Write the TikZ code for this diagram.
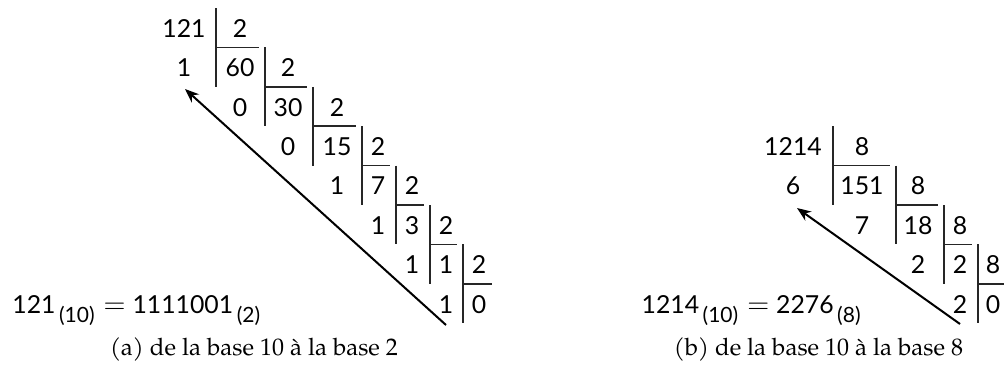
\documentclass[tikz,border=0pt]{standalone}
\usepackage{fontspec}
\setmainfont{TeX Gyre Pagella}
\newfontfamily\numf{Lato}
\usetikzlibrary{arrows.meta}
\newcommand{\bsub}[1]{\raisebox{-4.5pt}{\fontsize{10.5}{12}\selectfont\,#1}}
\newcommand{\beq}{\hspace{4.5pt}{\fontsize{14}{14}\selectfont$=$}\hspace{3.5pt}}
\begin{document}
\begin{tikzpicture}[x=0.5pt,y=-0.5pt,
  num/.style={anchor=base,inner sep=0pt,font=\numf\fontsize{12.4}{14}\selectfont},
  eqn/.style={inner sep=0pt,font=\numf\fontsize{12.4}{14}\selectfont},
  rulel/.style={line width=0.8pt,black!85},
  arr/.style={line width=1pt,-{Stealth[length=7pt,width=5.5pt]}},
  captxt/.style={anchor=base,inner sep=0pt,font=\fontsize{12}{14}\selectfont}]
\useasboundingbox (0,0) rectangle (1004,371);
% ---------- (a) ----------
\node[num] (a11) at (184,37.2) {121};
\node[num] (a12) at (240,37.2) {2};
\node[num] (a21) at (184,76.6) {1};
\node[num] (a22) at (240,76.6) {60};
\node[num] (a23) at (288,76.6) {2};
\node[num] (a32) at (240,116) {0};
\node[num] (a33) at (288,116) {30};
\node[num] (a34) at (337,116) {2};
\node[num] (a43) at (288,155.4) {0};
\node[num] (a44) at (337,155.4) {15};
\node[num] (a45) at (378,155.4) {2};
\node[num] (a54) at (337,194.8) {1};
\node[num] (a55) at (378,194.8) {7};
\node[num] (a56) at (412,194.8) {2};
\node[num] (a65) at (378,234.2) {1};
\node[num] (a66) at (412,234.2) {3};
\node[num] (a67) at (446,234.2) {2};
\node[num] (a76) at (412,273.6) {1};
\node[num] (a77) at (446,273.6) {1};
\node[num] (a78) at (479,273.6) {2};
\node[num] (a87) at (446,313) {1};
\node[num] (a88) at (479,313) {0};
% bars
\draw[rulel] (216,8) -- (216,86.8);
\draw[rulel] (265,47.4) -- (265,126.2);
\draw[rulel] (313,86.8) -- (313,165.6);
\draw[rulel] (362,126.2) -- (362,205);
\draw[rulel] (396,165.6) -- (396,244.4);
\draw[rulel] (430,205) -- (430,283.8);
\draw[rulel] (463,244.4) -- (463,323.2);
% underlines
\draw[rulel] (216,47.4) -- (259,47.4);
\draw[rulel] (265,86.8) -- (307,86.8);
\draw[rulel] (313,126.2) -- (356,126.2);
\draw[rulel] (362,165.6) -- (390,165.6);
\draw[rulel] (396,205) -- (424,205);
\draw[rulel] (430,244.4) -- (457,244.4);
\draw[rulel] (463,283.8) -- (492,283.8);
% arrow
\coordinate (aS) at (446,325);
\coordinate (aE) at (185,89);
\draw[arr] (aS) -- (aE);
\node[eqn,anchor=base west] (aeq) at (12,313) {121\bsub{(10)}\beq 1111001\bsub{(2)}};
\node[captxt] (acap) at (254,355) {(a) de la base 10 à la base 2};
% ---------- (b) ----------
\node[num] (b11) at (793,155.4) {1214};
\node[num] (b12) at (862,155.4) {8};
\node[num] (b21) at (793,194.8) {6};
\node[num] (b22) at (862,194.8) {151};
\node[num] (b23) at (918,194.8) {8};
\node[num] (b32) at (862,234.2) {7};
\node[num] (b33) at (918,234.2) {18};
\node[num] (b34) at (960,234.2) {8};
\node[num] (b43) at (918,273.6) {2};
\node[num] (b44) at (960,273.6) {2};
\node[num] (b45) at (993,273.6) {8};
\node[num] (b54) at (960,313) {2};
\node[num] (b55) at (993,313) {0};
\draw[rulel] (833,126.2) -- (833,205);
\draw[rulel] (896,165.6) -- (896,244.4);
\draw[rulel] (944,205) -- (944,283.8);
\draw[rulel] (978,244.4) -- (978,323.2);
\draw[rulel] (833,165.6) -- (890,165.6);
\draw[rulel] (896,205) -- (938,205);
\draw[rulel] (944,244.4) -- (972,244.4);
\draw[rulel] (978,283.8) -- (1004,283.8);
\coordinate (bS) at (960,324);
\coordinate (bE) at (797,208);
\draw[arr] (bS) -- (bE);
\node[eqn,anchor=base east] (beq) at (861,313) {1214\bsub{(10)}\beq 2276\bsub{(8)}};
\node[captxt] (bcap) at (818.5,355) {(b) de la base 10 à la base 8};
\end{tikzpicture}
\end{document}
